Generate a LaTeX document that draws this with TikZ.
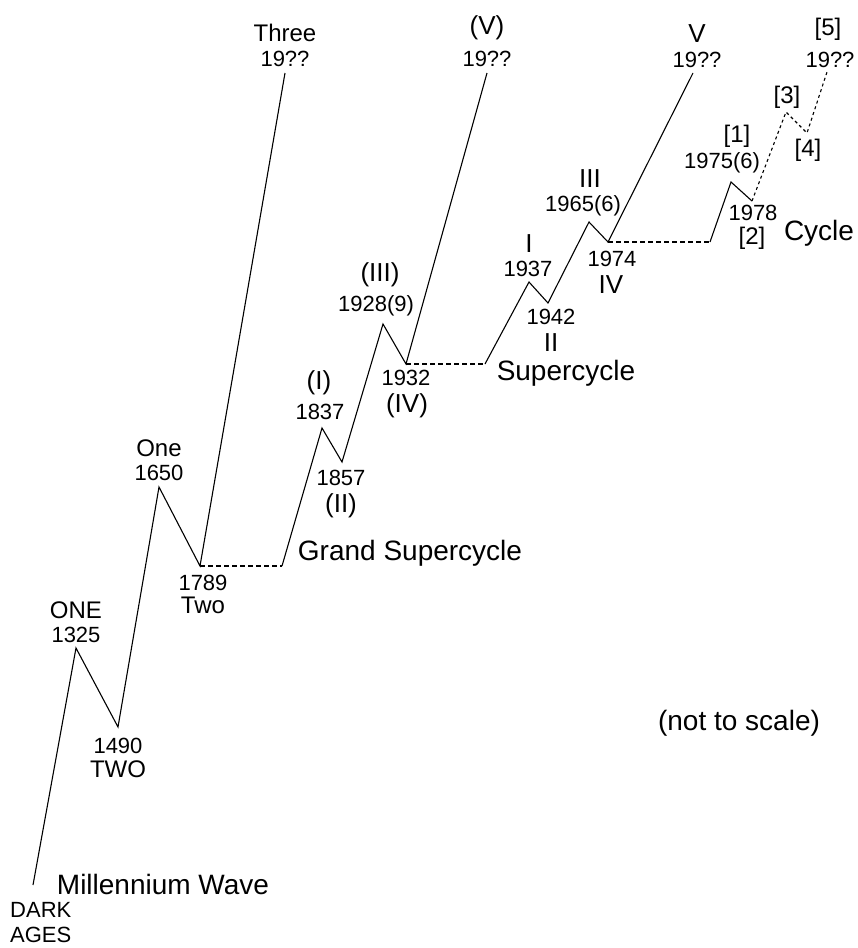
\documentclass[tikz,border=0pt]{standalone}
\usepackage{fontspec}
\setmainfont{Liberation Sans}
\usepackage{tikz}

\begin{document}
\begin{tikzpicture}[x=1pt, y=-1pt,
  wave/.style={line width=1.1pt},
  flat/.style={wave, dash pattern=on 5pt off 3pt},
  fut/.style={wave, dash pattern=on 3pt off 3pt},
  yr/.style={inner sep=0, font=\fontsize{22}{24}\selectfont},
  nm/.style={inner sep=0, font=\fontsize{24}{26}\selectfont},
  rn/.style={inner sep=0, font=\fontsize{26}{28}\selectfont},
  ttl/.style={inner sep=0, font=\fontsize{28}{30}\selectfont}]
  \useasboundingbox (0,0) rectangle (857,948);
  % turning points
  \coordinate (dark) at (33,885);
  \coordinate (mONE) at (76,648);  \coordinate (mTWO) at (118,727);
  \coordinate (mOne) at (159,487); \coordinate (mTwo) at (200,566);
  \coordinate (mThree) at (285,73);
  \coordinate (g0) at (282,566);
  \coordinate (gI) at (322,428);   \coordinate (gII) at (342,462);
  \coordinate (gIII) at (383,324); \coordinate (gIV) at (406,364);
  \coordinate (gV) at (487,73);
  \coordinate (s0) at (485,364);
  \coordinate (sI) at (529,282);   \coordinate (sII) at (548,303);
  \coordinate (sIII) at (589,222); \coordinate (sIV) at (608,242);
  \coordinate (sV) at (693,73);
  \coordinate (c0) at (710,242);
  \coordinate (c1) at (731,182);   \coordinate (c2) at (752,201);
  \coordinate (c3) at (786,112);   \coordinate (c4) at (807,133);
  \coordinate (c5) at (827,72);
  % waves
  \draw[wave] (dark) -- (mONE) -- (mTWO) -- (mOne) -- (mTwo) -- (mThree);
  \draw[flat] (mTwo) -- (g0);
  \draw[wave] (g0) -- (gI) -- (gII) -- (gIII) -- (gIV) -- (gV);
  \draw[flat] (gIV) -- (s0);
  \draw[wave] (s0) -- (sI) -- (sII) -- (sIII) -- (sIV) -- (sV);
  \draw[flat] (sIV) -- (c0);
  \draw[wave] (c0) -- (c1) -- (c2);
  \draw[fut] (c2) -- (c3) -- (c4) -- (c5);
  % millennium labels
  \node[yr, anchor=west] (darkl) at (10,910) {DARK};
  \node[yr, anchor=west] (agesl) at (10,935) {AGES};
  \node[ttl] (mill) at (163,884) {Millennium Wave};
  \node[nm] (ONEl) at (76,610) {ONE};   \node[yr] (ONEy) at (76,635) {1325};
  \node[yr] (TWOy) at (118,746) {1490}; \node[nm] (TWOl) at (118,769) {TWO};
  \node[nm] (Onel) at (159,448) {One};  \node[yr] (Oney) at (159,473) {1650};
  \node[yr] (Twoy) at (203,583) {1789}; \node[nm] (Twol) at (203,605) {Two};
  \node[nm] (Threel) at (285,33) {Three}; \node[yr] (Threey) at (285,59) {19??};
  % grand supercycle labels
  \node[ttl] (grand) at (410,553) {Grand Supercycle};
  \node[rn] (gIl) at (319,383) {(I)};     \node[yr] (gIy) at (320,412) {1837};
  \node[yr] (gIIy) at (341,478) {1857};   \node[rn] (gIIl) at (341,506) {(II)};
  \node[rn] (gIIIl) at (380,275) {(III)}; \node[yr] (gIIIy) at (376,306) {1928(9)};
  \node[yr] (gIVy) at (406,378) {1932};   \node[rn] (gIVl) at (407,406) {(IV)};
  \node[rn] (gVl) at (487,28) {(V)};      \node[yr] (gVy) at (487,59) {19??};
  % supercycle labels
  \node[ttl] (super) at (566,373) {Supercycle};
  \node[rn] (sIl) at (529,244) {I};       \node[yr] (sIy) at (528,269) {1937};
  \node[yr] (sIIy) at (551,317) {1942};   \node[rn] (sIIl) at (551,343) {II};
  \node[rn] (sIIIl) at (590,179) {III};   \node[yr] (sIIIy) at (583,206) {1965(6)};
  \node[yr] (sIVy) at (612,259) {1974};   \node[rn] (sIVl) at (611,285) {IV};
  \node[rn] (sVl) at (697,34) {V};        \node[yr] (sVy) at (697,60) {19??};
  % cycle labels
  \node[ttl] (cyc) at (819,233) {Cycle};
  \node[nm] (c1l) at (737,136) {[1]};     \node[yr] (c1y) at (722,163) {1975(6)};
  \node[yr] (c2y) at (753,213) {1978};    \node[nm] (c2l) at (752,238) {[2]};
  \node[nm] (c3l) at (787,97) {[3]};
  \node[nm] (c4l) at (808,150) {[4]};
  \node[nm] (c5l) at (828,29) {[5]};      \node[yr] (c5y) at (830,60) {19??};
  \node[ttl] (scale) at (739,723) {(not to scale)};
\end{tikzpicture}
\end{document}
